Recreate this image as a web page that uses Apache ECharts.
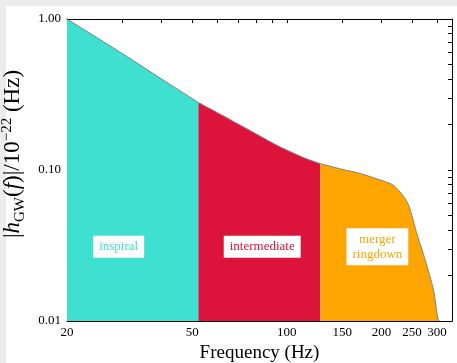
<!DOCTYPE html>
<html>
<head>
<meta charset="utf-8">
<script src="https://cdn.jsdelivr.net/npm/echarts@6/dist/echarts.min.js"></script>
<style>
  html, body { margin: 0; padding: 0; background: #ececec; }
  #chart { width: 457px; height: 363px; }
</style>
</head>
<body>
<div id="chart"></div>
<script>
// curve (Hz, |h| / 1e-22)
const freq = [20, 30, 40, 52.3, 62.9, 80.4, 95, 115, 127.8, 150, 171, 213, 222.7, 239.6, 247, 259, 275.5, 292.6, 302, 305];
const amp  = [1.0, 0.59, 0.40, 0.28, 0.228, 0.172, 0.1425, 0.119, 0.110, 0.101, 0.0948, 0.0813, 0.0763, 0.063, 0.0541, 0.0379, 0.0252, 0.0160, 0.0104, 0.01];

// region edges and names
const edges = [20, 52.3, 127.8, 305];
const regionNames = ['inspiral', 'intermediate', 'merger\nringdown'];
const regionColors = ['#40E0D0', '#DC143C', '#FFA500'];
const labelPos = [[29.2, 0.031], [83.5, 0.031], [194, 0.031]];

const xLabels = [20, 50, 100, 150, 200, 250, 300];
const xTicks = [20, 30, 40, 50, 60, 70, 80, 90, 100, 150, 200, 250, 300];
const yLabels = [0.01, 0.1, 1];
const yTicks = [0.01, 0.02, 0.03, 0.04, 0.05, 0.06, 0.07, 0.08, 0.09,
                0.1, 0.2, 0.3, 0.4, 0.5, 0.6, 0.7, 0.8, 0.9, 1];

const serif = '"Liberation Serif", "DejaVu Serif", serif';

function xAxisOf(pos) {
  return {
    type: 'log', position: pos, min: 20, max: 335,
    axisLine: { show: true, onZero: false, lineStyle: { color: '#000', width: 1 } },
    axisTick: { show: true, inside: true, length: 4, customValues: xTicks, lineStyle: { color: '#000' } },
    axisLabel: {
      show: pos === 'bottom', customValues: xLabels, margin: 5,
      color: '#000', fontFamily: serif, fontSize: 13
    },
    splitLine: { show: false }, minorTick: { show: false },
    name: pos === 'bottom' ? 'Frequency (Hz)' : '',
    nameLocation: 'middle', nameGap: 21,
    nameTextStyle: { color: '#000', fontFamily: serif, fontSize: 19 }
  };
}

function yAxisOf(pos) {
  return {
    type: 'log', position: pos, min: 0.01, max: 1,
    axisLine: { show: true, onZero: false, lineStyle: { color: '#000', width: 1 } },
    axisTick: { show: true, inside: true, length: 4, customValues: yTicks, lineStyle: { color: '#000' } },
    axisLabel: {
      show: pos === 'left', customValues: yLabels, margin: 6,
      color: '#000', fontFamily: serif, fontSize: 13,
      formatter: v => Number(v).toFixed(2)
    },
    splitLine: { show: false }, minorTick: { show: false },
    name: pos === 'left' ? '{n||}{i|h}{s|GW}{n|(}{i|f}{n|)|/10}{p|−22}{n| (Hz)}' : '',
    nameLocation: 'middle', nameRotate: 90, nameGap: 32,
    nameTextStyle: {
      color: '#000', fontFamily: serif, fontSize: 23, padding: [0, 0, 0, 32],
      rich: {
        n: { fontFamily: serif, fontSize: 23, color: '#000', lineHeight: 28 },
        i: { fontFamily: serif, fontSize: 23, fontStyle: 'italic', color: '#000', lineHeight: 28 },
        s: { fontFamily: serif, fontSize: 15, color: '#000', verticalAlign: 'bottom', lineHeight: 28, padding: [8, 0, 0, 0] },
        p: { fontFamily: serif, fontSize: 15, color: '#000', verticalAlign: 'top', lineHeight: 28, padding: [0, 0, 9, 0] }
      }
    }
  };
}

const series = regionNames.map((name, k) => {
  const pts = [];
  for (let i = 0; i < freq.length; i++) {
    if (freq[i] >= edges[k] && freq[i] <= edges[k + 1]) pts.push([freq[i], amp[i]]);
  }
  const s = {
    type: 'line', name: name, data: pts,
    showSymbol: false, smooth: 0.25,
    lineStyle: { color: '#808080', width: 1 },
    areaStyle: { color: regionColors[k], opacity: 1, origin: 'start' },
    z: 2,
    markPoint: {
      symbol: 'rect', symbolSize: 0, silent: true,
      data: [{ coord: labelPos[k] }],
      label: {
        show: true, position: 'inside', formatter: name,
        color: regionColors[k], fontFamily: serif, fontSize: 13, lineHeight: 15,
        backgroundColor: '#fff', padding: [4, 6, 3, 6], align: 'center', verticalAlign: 'middle'
      }
    }
  };
  if (k === 1) {
    s.markLine = {
      symbol: 'none', silent: true, label: { show: false },
      lineStyle: { color: '#8a8a8a', type: [4, 3], width: 1 },
      data: [[{ coord: [edges[1], 0.01] }, { coord: [edges[1], pts[0][1]] }]]
    };
  }
  return s;
});

const myChart = echarts.init(document.getElementById('chart'));
myChart.setOption({
  backgroundColor: '#ececec',
  animation: false,
  graphic: [{
    type: 'rect', left: 6, top: 6, z: -10,
    shape: { width: 460, height: 370 },
    style: { fill: '#fff' }
  }],
  grid: { left: 67, right: 5, top: 19, bottom: 42, show: false, containLabel: false, outerBoundsMode: 'none' },
  xAxis: [xAxisOf('bottom'), xAxisOf('top')],
  yAxis: [yAxisOf('left'), yAxisOf('right')],
  series: series
});
</script>
</body>
</html>
